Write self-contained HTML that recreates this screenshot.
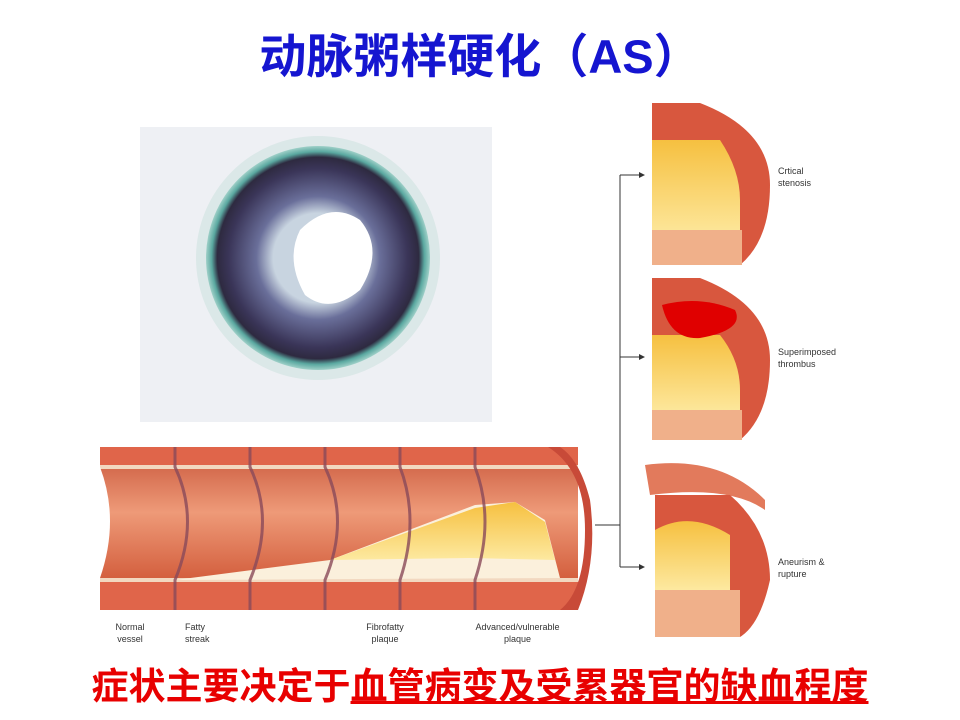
<!DOCTYPE html>
<html><head><meta charset="utf-8"><style>
body{margin:0;width:960px;height:720px;background:#fff;position:relative;overflow:hidden;font-family:"Liberation Sans","Noto Sans CJK SC",sans-serif}
.t{position:absolute;left:0;width:960px;text-align:center;top:27px;font-size:47px;line-height:60px;font-weight:bold;color:#1515d0}
.b{position:absolute;left:0;width:960px;text-align:center;top:665px;font-size:37px;line-height:44px;font-weight:bold;color:#e80000}
.l{position:absolute;font-size:9px;color:#333;text-align:center;line-height:12px}
</style></head><body>
<div class="t">动脉粥样硬化（AS）</div>
<svg width="960" height="720" style="position:absolute;left:0;top:0">
<defs>
<linearGradient id="in" x1="0" y1="0" x2="0" y2="1"><stop offset="0" stop-color="#c8553a"/><stop offset=".4" stop-color="#ee9a78"/><stop offset=".8" stop-color="#d4603f"/><stop offset="1" stop-color="#7a2a1c"/></linearGradient>
<radialGradient id="ring" cx=".5" cy=".5" r=".5"><stop offset=".4" stop-color="#c8d4e0"/><stop offset=".55" stop-color="#6a6f9a"/><stop offset=".8" stop-color="#3a3558"/><stop offset=".9" stop-color="#2e2a40"/><stop offset=".95" stop-color="#5aa8a0"/><stop offset="1" stop-color="#9fd0c8"/></radialGradient>
<linearGradient id="yl" x1="0" y1="0" x2="0" y2="1"><stop offset="0" stop-color="#f6c040"/><stop offset="1" stop-color="#fde9a0"/></linearGradient>
</defs>
<rect x="140" y="127" width="352" height="295" fill="#eef0f4"/>
<circle cx="318" cy="258" r="122" fill="#cfe3e0" opacity=".6"/>
<circle cx="318" cy="258" r="112" fill="url(#ring)"/>
<path d="M300 230 Q330 200 360 220 Q385 250 360 290 Q330 315 305 295 Q285 260 300 230Z" fill="#fff"/>
<rect x="100" y="447" width="478" height="163" fill="url(#in)"/>
<rect x="100" y="447" width="478" height="20" fill="#e0654a"/>
<rect x="100" y="465" width="478" height="4" fill="#f2d8c0"/>
<rect x="100" y="578" width="478" height="4" fill="#f2d8c0"/>
<rect x="100" y="582" width="478" height="28" fill="#e0654a"/>
<path d="M175 580 L330 560 L475 505 L515 502 L545 520 L560 578 Z" fill="#fbf0dc"/>
<path d="M330 560 L475 508 L515 502 L545 522 L555 560 L470 558 Z" fill="url(#yl)"/>
<path d="M548 447 Q585 470 585 530 Q585 590 560 610 L578 610 Q598 560 590 500 Q580 460 560 447Z" fill="#c84a38"/>
<path d="M100 467 Q120 520 100 578" fill="#fff"/>
<g stroke="#8a4a5a" stroke-width="3" fill="none" opacity=".8">
<path d="M175 447 V467 Q200 520 175 580 V610"/><path d="M250 447 V467 Q275 520 250 580 V610"/>
<path d="M325 447 V467 Q350 520 325 580 V610"/><path d="M400 447 V467 Q420 520 400 580 V610"/>
<path d="M475 447 V467 Q495 520 475 580 V610"/></g>
<g>
<path d="M652 103 H700 Q770 130 770 185 Q770 240 740 265 H652Z" fill="#d8573e"/>
<path d="M652 140 H720 Q740 170 740 200 V240 H652Z" fill="url(#yl)"/>
<rect x="652" y="230" width="90" height="35" fill="#f0b08a"/>
<path d="M652 278 H700 Q770 305 770 360 Q770 415 740 440 H652Z" fill="#d8573e"/>
<path d="M652 335 H720 Q740 360 740 390 V415 H652Z" fill="url(#yl)"/>
<path d="M662 305 Q700 295 735 310 Q745 330 700 338 Q670 340 662 305Z" fill="#e00000"/>
<rect x="652" y="410" width="90" height="30" fill="#f0b08a"/>
<path d="M645 465 Q720 455 765 500 V510 Q730 485 650 495Z" fill="#e27a5c"/>
<path d="M655 495 H730 Q770 530 770 580 Q760 625 740 637 H655Z" fill="#d8573e"/>
<path d="M655 530 Q690 510 730 535 V590 H655Z" fill="url(#yl)"/>
<rect x="655" y="590" width="85" height="47" fill="#f0b08a"/>
</g>
<g stroke="#333" stroke-width="1" fill="none">
<path d="M595 525 H620 M620 175 V567 M620 175 H640 M620 357 H640 M620 567 H640"/></g>
<g fill="#333"><path d="M645 175 l-6 -3 v6z M645 357 l-6 -3 v6z M645 567 l-6 -3 v6z"/></g>
</svg>
<div class="l" style="left:778px;top:165px;text-align:left">Crtical<br>stenosis</div>
<div class="l" style="left:778px;top:346px;text-align:left">Superimposed<br>thrombus</div>
<div class="l" style="left:778px;top:556px;text-align:left">Aneurism &amp;<br>rupture</div>
<div class="l" style="left:105px;top:621px;width:50px">Normal<br>vessel</div>
<div class="l" style="left:185px;top:621px;text-align:left">Fatty<br>streak</div>
<div class="l" style="left:350px;top:621px;width:70px">Fibrofatty<br>plaque</div>
<div class="l" style="left:465px;top:621px;width:105px">Advanced/vulnerable<br>plaque</div>
<div class="b">症状主要决定于<u>血管病变及受累器官的缺血程度</u></div>
</body></html>
